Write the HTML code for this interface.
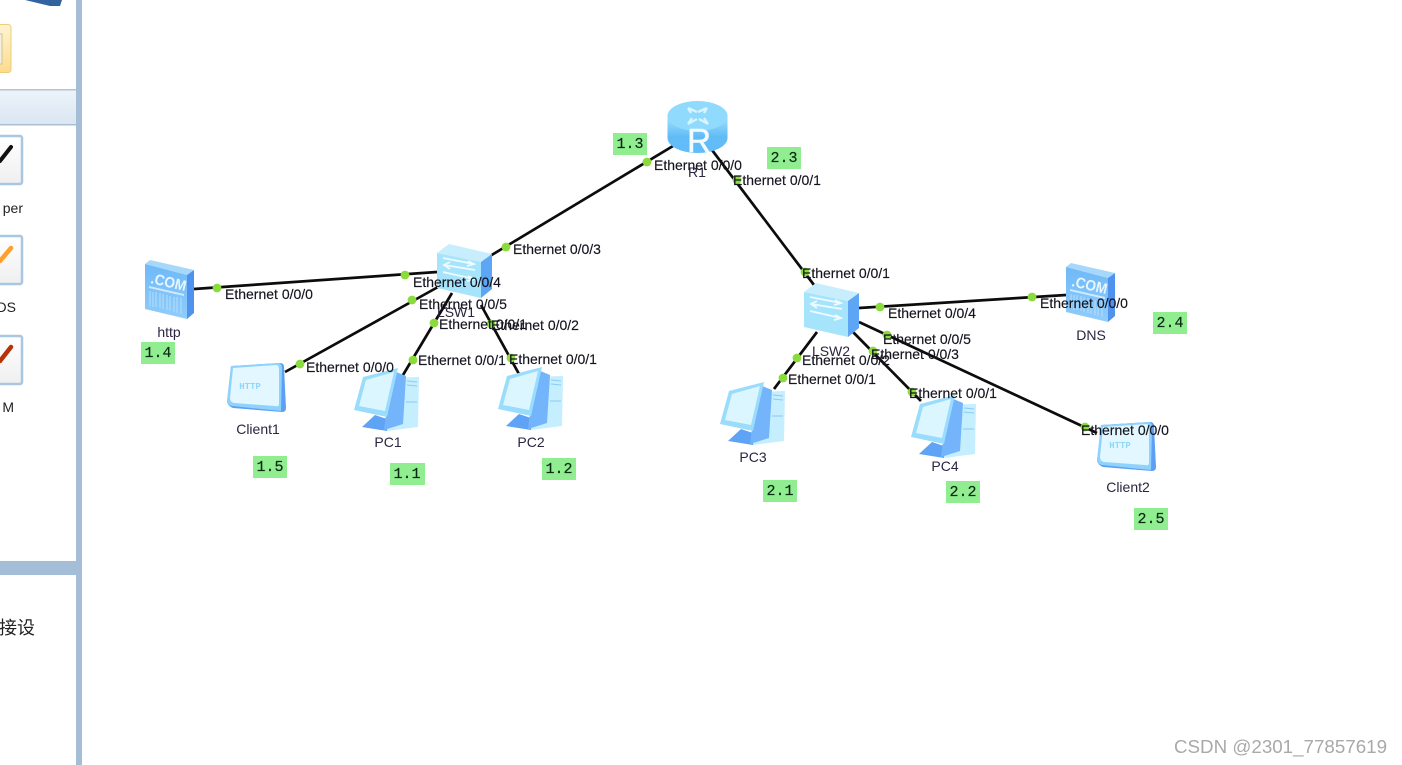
<!DOCTYPE html>
<html><head><meta charset="utf-8"><title>Network topology</title>
<style>
html,body{margin:0;padding:0;background:#fff;width:1402px;height:765px;overflow:hidden}
svg{display:block;filter:blur(0.35px)}
text{font-family:"Liberation Sans","Noto Sans CJK SC",sans-serif}
.e{font-size:14px;fill:#14141f;stroke:#14141f;stroke-width:.15}
.n{font-size:14px;fill:#2c2440;text-anchor:middle}
.g{font-family:"Liberation Mono",monospace;font-size:15px;fill:#0c2814;stroke:#0c2814;stroke-width:.2;text-anchor:middle}
.c{font-size:15px;font-weight:bold;fill:#e8f6ff}
.h{font-family:"Liberation Mono",monospace;font-size:9px;font-weight:bold;fill:#8fd8fb;text-anchor:middle}
</style></head><body>
<svg xmlns="http://www.w3.org/2000/svg" width="1402" height="765" viewBox="0 0 1402 765">
<defs>
<linearGradient id="hb" x1="0" y1="0" x2="0" y2="1"><stop offset="0" stop-color="#edf3fa"/><stop offset="1" stop-color="#dae6f1"/></linearGradient>
<linearGradient id="yb" x1="0" y1="0" x2="0" y2="1"><stop offset="0" stop-color="#fff4d2"/><stop offset="1" stop-color="#fcdc8c"/></linearGradient>
<linearGradient id="btn" x1="0" y1="0" x2="0" y2="1"><stop offset="0" stop-color="#fff"/><stop offset="1" stop-color="#efefef"/></linearGradient>
<linearGradient id="rt" x1="0" y1="0" x2="0" y2="1"><stop offset="0" stop-color="#a3e2ff"/><stop offset="1" stop-color="#5db9f6"/></linearGradient>
<linearGradient id="sv" x1="0" y1="0" x2="0" y2="1"><stop offset="0" stop-color="#6fb9f8"/><stop offset="1" stop-color="#8fcdfb"/></linearGradient>

<g id="server">
<polygon points="145,264 150,260 194,270 187,275" fill="#a5d8fb"/>
<polygon points="145,264 187,275 187,319 145,309" fill="url(#sv)"/>
<polygon points="187,275 194,270 194,313 187,319" fill="#4f93ee"/>
<polygon points="149,286 184,294 184,296 149,288" fill="#cfeaff"/>
<g stroke="#b6defc" stroke-width="1">
<line x1="150" y1="291" x2="150" y2="306"/><line x1="153" y1="292" x2="153" y2="307"/><line x1="156" y1="292" x2="156" y2="307"/><line x1="160" y1="293" x2="160" y2="308"/><line x1="163" y1="294" x2="163" y2="309"/><line x1="167" y1="295" x2="167" y2="310"/><line x1="170" y1="296" x2="170" y2="311"/><line x1="174" y1="297" x2="174" y2="312"/><line x1="177" y1="297" x2="177" y2="313"/><line x1="181" y1="298" x2="181" y2="314"/>
</g>
</g>

<g id="client">
<path d="M231,366 L280,363 Q284,363 284,367 L286,408 Q286,412 282,412 L233,408 Q228,406 227,402 Z" fill="#5d9ff5"/>
<path d="M231,366 L279,363 Q282,364 282,368 L281,411 L232,406 Q227,405 227,401 Z" fill="#8fd2fc"/>
<path d="M233,368 L277,365 Q279,366 279,370 L279,404 Q279,407 275,406 L234,403 Q230,402 230,398 Z" fill="#e2f7ff"/>
</g>

<g id="pc">
<polygon points="362,427 375,415 402,424 387,431" fill="#5fa3f6"/>
<polygon points="385,378 419,377 418,427 387,431" fill="#c5eeff"/>
<polygon points="394,371 406,376 403,424 384,430 386,414" fill="#73b4fb"/>
<polygon points="354,410 363,377 398,368 387,417" fill="#9adcfc"/>
<polygon points="359,406 366,380 394,372 385,411" fill="#dcf6ff"/>
<g stroke="#8dcbf6" stroke-width="1"><line x1="407" y1="381" x2="417" y2="382"/><line x1="407" y1="385" x2="417" y2="386"/><line x1="406" y1="402" x2="417" y2="402"/></g>
</g>

<g id="sw">
<polygon points="437,253 449,244 492,254 481,262" fill="#c8eefd"/>
<polygon points="437,253 481,262 481,298 437,288" fill="#a6e4fb"/>
<polygon points="481,262 492,254 492,289 481,298" fill="#5da5f5"/>
<g fill="none" stroke="#eefbff" stroke-width="1.8">
<path d="M443,258 L474,264 M468,261 L474,264 L467,266"/>
<path d="M475,270 L444,265 M450,262 L444,265 L450,269"/>
<path d="M443,272 L474,279 M468,276 L474,279 L467,281"/>
</g>
</g>
</defs>

<!-- left panel -->
<rect x="0" y="0" width="76" height="765" fill="#fff"/>
<rect x="76" y="0" width="6" height="765" fill="#a4bed8"/>
<polygon points="25,0 62,0 60,6 50,6" fill="#31639f"/>
<rect x="-6" y="24.5" width="17" height="48" rx="3" fill="url(#yb)" stroke="#f0cb78"/>
<rect x="-4" y="34" width="6" height="30" fill="#f4efe0" stroke="#cfc39c"/>
<rect x="0" y="90" width="76" height="34" fill="url(#hb)"/>
<rect x="0" y="89" width="76" height="1.5" fill="#b5c4d4"/>
<rect x="0" y="124" width="76" height="1.5" fill="#a9bfd5"/>

<g>
<rect x="-30" y="136" width="52" height="48" rx="2" fill="url(#btn)" stroke="#a9c6e2" stroke-width="2.5"/>
<line x1="0" y1="161" x2="11" y2="147" stroke="#111" stroke-width="4" stroke-linecap="round"/>
<rect x="-30" y="236" width="52" height="48" rx="2" fill="url(#btn)" stroke="#a9c6e2" stroke-width="2.5"/>
<line x1="0" y1="261" x2="11" y2="248" stroke="#ffa02c" stroke-width="4.5" stroke-linecap="round"/>
<rect x="-30" y="336" width="52" height="48" rx="2" fill="url(#btn)" stroke="#a9c6e2" stroke-width="2.5"/>
<line x1="0" y1="361" x2="11" y2="347" stroke="#b83208" stroke-width="4.5" stroke-linecap="round"/>
</g>
<text x="23" y="213" text-anchor="end" style="font-size:14px;fill:#222">per</text>
<text x="16" y="312" text-anchor="end" style="font-size:14px;fill:#222">DS</text>
<text x="14" y="412" text-anchor="end" style="font-size:14px;fill:#222">M</text>
<rect x="0" y="561" width="76" height="14" fill="#a4bed8"/>
<text x="-1" y="634" style="font-size:18px;fill:#222">接设</text>

<!-- links -->
<g stroke="#0c0c0c" stroke-width="2.7" fill="none">
<line x1="673" y1="146" x2="490" y2="256"/>
<line x1="712" y1="150" x2="814" y2="285"/>
<line x1="194" y1="289" x2="437" y2="272"/>
<line x1="285" y1="372" x2="438" y2="287"/>
<line x1="403" y1="375" x2="452" y2="293"/>
<line x1="519" y1="374" x2="481" y2="305"/>
<line x1="859" y1="308" x2="1066" y2="295"/>
<line x1="859" y1="322" x2="1097" y2="433"/>
<line x1="853" y1="332" x2="921" y2="401"/>
<line x1="817" y1="332" x2="774" y2="389"/>
</g>

<!-- devices -->
<ellipse cx="697.5" cy="138" rx="30" ry="15" fill="#62bcf7"/>
<rect x="667.5" y="116" width="60" height="22" fill="url(#rt)"/>
<ellipse cx="697.5" cy="116" rx="30" ry="15" fill="#8fdafd"/>
<g fill="none" stroke="#d8f4ff" stroke-width="2.4">
<path d="M688,108 L697,112 M688,108 L691,113"/><path d="M707,108 L698,112 M707,108 L704,113"/>
<path d="M688,124 L697,119 M688,124 L692,118"/><path d="M708,124 L699,119 M708,124 L704,118"/>
</g>
<text x="699" y="152" text-anchor="middle" style="font-size:33px;fill:#f2fbff;stroke:#f2fbff;stroke-width:.6">R</text>

<use href="#sw"/>
<use href="#sw" x="367" y="39"/>

<use href="#server"/>
<text class="c" transform="translate(150,283) rotate(13)" textLength="36" lengthAdjust="spacingAndGlyphs">.COM</text>
<use href="#server" x="921" y="3"/>
<text class="c" transform="translate(1071,286) rotate(13)" textLength="36" lengthAdjust="spacingAndGlyphs">.COM</text>

<use href="#client"/>
<text class="h" x="250" y="389">HTTP</text>
<use href="#client" x="870" y="59"/>
<text class="h" x="1120" y="448">HTTP</text>

<use href="#pc"/>
<use href="#pc" x="144" y="-1"/>
<use href="#pc" x="366" y="14"/>
<use href="#pc" x="557" y="27"/>

<!-- names -->
<text class="n" x="697" y="177">R1</text>
<text class="n" x="456" y="317">LSW1</text>
<text class="n" x="831" y="356">LSW2</text>
<text class="n" x="169" y="337">http</text>
<text class="n" x="258" y="434">Client1</text>
<text class="n" x="388" y="447">PC1</text>
<text class="n" x="531" y="447">PC2</text>
<text class="n" x="753" y="462">PC3</text>
<text class="n" x="945" y="471">PC4</text>
<text class="n" x="1091" y="340">DNS</text>
<text class="n" x="1128" y="492">Client2</text>

<!-- port dots -->
<g fill="#8bdb3c">
<circle cx="647" cy="162" r="4.4"/><circle cx="737" cy="180" r="4.4"/>
<circle cx="506" cy="247" r="4.4"/><circle cx="405" cy="275" r="4.4"/><circle cx="412" cy="300" r="4.4"/>
<circle cx="434" cy="323" r="4.4"/><circle cx="491" cy="324" r="4.4"/>
<circle cx="413" cy="360" r="4.4"/><circle cx="511" cy="358" r="4.4"/>
<circle cx="217" cy="288" r="4.4"/><circle cx="300" cy="364" r="4.4"/>
<circle cx="805" cy="272" r="4.4"/><circle cx="880" cy="307" r="4.4"/><circle cx="1032" cy="297" r="4.4"/>
<circle cx="887" cy="335" r="4.4"/><circle cx="873" cy="351" r="4.4"/><circle cx="797" cy="358" r="4.4"/>
<circle cx="783" cy="378" r="4.4"/><circle cx="912" cy="392" r="4.4"/><circle cx="1085" cy="427" r="4.4"/>
</g>

<!-- port labels -->
<text class="e" x="225" y="299">Ethernet 0/0/0</text>
<text class="e" x="306" y="372">Ethernet 0/0/0</text>
<text class="e" x="413" y="287">Ethernet 0/0/4</text>
<text class="e" x="513" y="254">Ethernet 0/0/3</text>
<text class="e" x="419" y="309">Ethernet 0/0/5</text>
<text class="e" x="439" y="329">Ethernet 0/0/1</text>
<text class="e" x="491" y="330">Ethernet 0/0/2</text>
<text class="e" x="418" y="365">Ethernet 0/0/1</text>
<text class="e" x="509" y="364">Ethernet 0/0/1</text>
<text class="e" x="654" y="170">Ethernet 0/0/0</text>
<text class="e" x="733" y="185">Ethernet 0/0/1</text>
<text class="e" x="802" y="278">Ethernet 0/0/1</text>
<text class="e" x="888" y="318">Ethernet 0/0/4</text>
<text class="e" x="883" y="344">Ethernet 0/0/5</text>
<text class="e" x="871" y="359">Ethernet 0/0/3</text>
<text class="e" x="802" y="365">Ethernet 0/0/2</text>
<text class="e" x="788" y="384">Ethernet 0/0/1</text>
<text class="e" x="909" y="398">Ethernet 0/0/1</text>
<text class="e" x="1040" y="308">Ethernet 0/0/0</text>
<text class="e" x="1081" y="435">Ethernet 0/0/0</text>

<!-- address tags -->
<g fill="#90ee90">
<rect x="613" y="133" width="34" height="22"/><rect x="767" y="147" width="34" height="22"/>
<rect x="141" y="342" width="34" height="22"/><rect x="253" y="456" width="34" height="22"/>
<rect x="390" y="463" width="35" height="22"/><rect x="542" y="458" width="34" height="22"/>
<rect x="1153" y="312" width="34" height="22"/><rect x="763" y="480" width="34" height="22"/>
<rect x="946" y="481" width="34" height="22"/><rect x="1134" y="508" width="34" height="22"/>
</g>
<text class="g" x="630" y="148">1.3</text>
<text class="g" x="784" y="162">2.3</text>
<text class="g" x="158" y="357">1.4</text>
<text class="g" x="270" y="471">1.5</text>
<text class="g" x="407" y="478">1.1</text>
<text class="g" x="559" y="473">1.2</text>
<text class="g" x="1170" y="327">2.4</text>
<text class="g" x="780" y="495">2.1</text>
<text class="g" x="963" y="496">2.2</text>
<text class="g" x="1151" y="523">2.5</text>

<text x="1174" y="753" textLength="213" lengthAdjust="spacingAndGlyphs" style="font-size:18px;fill:#a9a9a9">CSDN @2301_77857619</text>
</svg>
</body></html>
